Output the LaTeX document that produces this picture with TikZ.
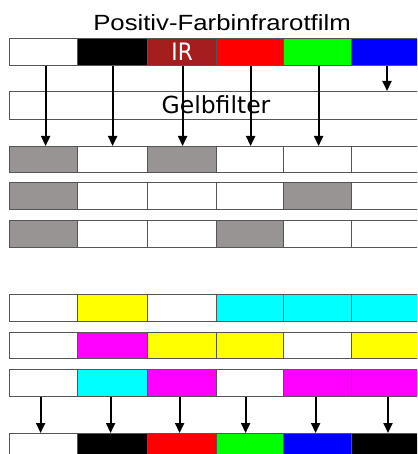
\documentclass[tikz,border=0pt]{standalone}
\usepackage{fontspec}
\setmainfont{Liberation Sans}
\newfontfamily\dejavu{DejaVu Sans}
\usetikzlibrary{arrows.meta}
\definecolor{irred}{HTML}{A51E1E}
\definecolor{cgray}{HTML}{989494}
\definecolor{cborder}{HTML}{555555}
\definecolor{cgreen}{HTML}{00FF00}
\definecolor{cblue}{HTML}{0000FF}
\definecolor{cred}{HTML}{FF0000}
\definecolor{cyel}{HTML}{FFFF00}
\definecolor{ccyan}{HTML}{00FFFF}
\definecolor{cmag}{HTML}{FF00FF}
\tikzset{
  cell/.style={draw=cborder, line width=1.2pt, rectangle, inner sep=0pt, anchor=north west},
  arr/.style={line width=1.9pt, -{Triangle[length=10pt,width=9pt]}},
}
\begin{document}
\begin{tikzpicture}[x=1pt,y=-1pt]
\useasboundingbox (0,0) rectangle (417,454);
\clip (0,0) rectangle (417,454);
% column boundaries
\def\xs{{9,77,147,216,283,351,425}}
\newcommand{\cellrow}[4]{% name prefix, top, height, colour list
  \foreach \c [count=\i from 0] in {#4} {
    \pgfmathsetmacro{\xa}{\xs[\i]}
    \pgfmathsetmacro{\xb}{\xs[\i+1]}
    \node[cell, fill=\c, minimum width={(\xb-\xa)*1pt}, minimum height=#3pt] (#1\i) at (\xa,#2) {};
  }
}
\node[font=\fontsize{22}{22}\selectfont, xscale=1.17] (title) at (222,23) {Positiv-Farbinfrarotfilm};
\cellrow{a}{38}{27}{white,black,irred,cred,cgreen,cblue}
\node[text=white, font=\dejavu\fontsize{24}{24}\selectfont, xscale=0.9] (ir) at (a2) {IR};
\node[cell, minimum width=420pt, minimum height=28pt, draw=cborder] (gelb) at (9,91) {};
\node[font=\dejavu\fontsize{23.5}{23.5}\selectfont] (gtext) at (216,105) {Gelbfilter};
\cellrow{b}{146}{26}{cgray,white,cgray,white,white,white}
\cellrow{c}{182}{27}{cgray,white,white,white,cgray,white}
\cellrow{d}{220}{27}{cgray,white,white,cgray,white,white}
\cellrow{e}{294}{27}{white,cyel,white,ccyan,ccyan,ccyan}
\cellrow{f}{332}{26}{white,cmag,cyel,cyel,white,cyel}
\cellrow{g}{369}{27}{white,ccyan,cmag,white,cmag,cmag}
\cellrow{h}{433}{27}{white,black,cred,cgreen,cblue,black}
% arrows through the yellow filter
\draw[arr] ([xshift=2pt]a0.south) -- ([xshift=2pt]b0.north);
\draw[arr] (a1.south) -- (b1.north);
\draw[arr] ([xshift=0.5pt]a2.south) -- ([xshift=0.5pt]b2.north);
\draw[arr] ([xshift=0.5pt]a3.south) -- ([xshift=0.5pt]b3.north);
\draw[arr] ([xshift=1pt]a4.south) -- ([xshift=1pt]b4.north);
\coordinate (stop) at (387,91);
\draw[arr] (a5.south -| stop) -- (stop);
% arrows to the resulting colours
\draw[arr] ([xshift=-3pt]g0.south) -- ([xshift=-3pt]h0.north);
\draw[arr] ([xshift=-2pt]g1.south) -- ([xshift=-2pt]h1.north);
\draw[arr] ([xshift=-2.5pt]g2.south) -- ([xshift=-2.5pt]h2.north);
\draw[arr] ([xshift=-4.5pt]g3.south) -- ([xshift=-4.5pt]h3.north);
\draw[arr] ([xshift=-2pt]g4.south) -- ([xshift=-2pt]h4.north);
\coordinate (hx) at (388,433);
\draw[arr] (g5.south -| hx) -- (h5.north -| hx);
\end{tikzpicture}
\end{document}
